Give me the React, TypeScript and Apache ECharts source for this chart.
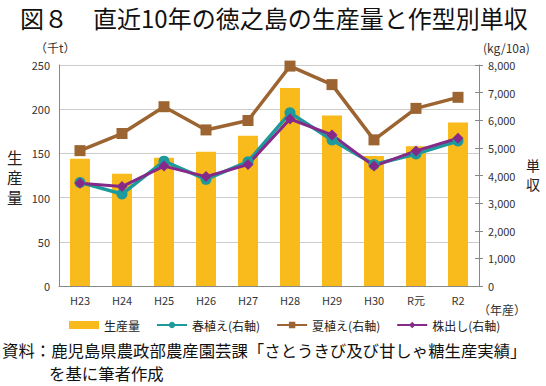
import React, { useEffect, useRef } from "react";
import * as echarts from "echarts";

const categories = ["H23", "H24", "H25", "H26", "H27", "H28", "H29", "H30", "R元", "R2"];
const production = [144, 127, 145, 152, 170, 224, 193, 147, 158, 185];
const springYield = [3750, 3330, 4520, 3860, 4500, 6270, 5285, 4400, 4780, 5250];
const summerYield = [4900, 5520, 6490, 5650, 5990, 7960, 7290, 5290, 6430, 6830];
const ratoonYield = [3720, 3600, 4340, 3960, 4400, 6045, 5470, 4340, 4890, 5350];
const leftTicks = { min: 0, max: 250, interval: 50 };
const rightTicks = { min: 0, max: 8000, interval: 1000 };
const leftName = ["生", "産", "量"];
const rightName = ["単", "収"];

const FONT = "'Noto Sans CJK JP', 'Noto Sans', sans-serif";

export default function App() {
  const ref = useRef<HTMLDivElement>(null);
  useEffect(() => {
    if (!ref.current) return;
    const chart = echarts.init(ref.current, undefined, { renderer: "svg" });
    const axisLabelStyle = { color: "#333", fontSize: 11, fontFamily: FONT };
    const leftNameTexts = leftName.map((ch, i) => ({
      type: "text",
      left: 7,
      top: 148 + i * 20,
      style: { text: ch, fontSize: 15.5, lineHeight: 18, fill: "#222", fontFamily: FONT },
    }));
    const rightNameTexts = rightName.map((ch, i) => ({
      type: "text",
      left: 526,
      top: 157 + i * 19,
      style: { text: ch, fontSize: 14, lineHeight: 16, fill: "#222", fontFamily: FONT },
    }));
    chart.setOption({
      animation: false,
      textStyle: { fontFamily: FONT },
      grid: { left: 59, right: 67, top: 65, bottom: 100 },
      xAxis: {
        type: "category",
        data: categories,
        axisLine: { lineStyle: { color: "#888", width: 1 } },
        axisTick: { show: false },
        axisLabel: { ...axisLabelStyle, margin: 8 },
      },
      yAxis: [
        {
          type: "value",
          ...leftTicks,
          position: "left",
          axisLine: { show: true, lineStyle: { color: "#888" } },
          axisTick: { show: false },
          axisLabel: { ...axisLabelStyle, margin: 9 },
          splitLine: { lineStyle: { color: "#ccc", width: 1 } },
        },
        {
          type: "value",
          ...rightTicks,
          position: "right",
          axisLine: { show: true, lineStyle: { color: "#888" } },
          axisTick: { show: true, length: 4, lineStyle: { color: "#888" } },
          axisLabel: {
            ...axisLabelStyle,
            margin: 9,
            formatter: (v: number) => v.toLocaleString("en-US"),
          },
          splitLine: { show: false },
        },
        {
          type: "value",
          ...rightTicks,
          position: "right",
          axisLine: { show: false },
          axisTick: { show: true, inside: true, length: 4, lineStyle: { color: "#888" } },
          axisLabel: { show: false },
          splitLine: { show: false },
        },
      ],
      legend: {
        left: 64,
        top: 314,
        itemGap: 16,
        itemWidth: 30,
        itemHeight: 8,
        textStyle: { color: "#222", fontSize: 12, fontFamily: FONT },
        data: [
          { name: "生産量", icon: "rect", itemStyle: { color: "#F9BA1B" } },
          { name: "春植え(右軸)" },
          { name: "夏植え(右軸)" },
          { name: "株出し(右軸)" },
        ],
      },
      series: [
        {
          name: "生産量",
          type: "bar",
          data: production,
          barWidth: 20,
          itemStyle: { color: "#F9BA1B" },
        },
        {
          name: "夏植え(右軸)",
          type: "line",
          yAxisIndex: 1,
          data: summerYield,
          symbol: "rect",
          symbolSize: 11,
          lineStyle: { color: "#9C6431", width: 3.5 },
          itemStyle: { color: "#9C6431" },
        },
        {
          name: "春植え(右軸)",
          type: "line",
          yAxisIndex: 1,
          data: springYield,
          symbol: "circle",
          symbolSize: 11,
          lineStyle: { color: "#1E9A9C", width: 3.5 },
          itemStyle: { color: "#1E9A9C" },
        },
        {
          name: "株出し(右軸)",
          type: "line",
          yAxisIndex: 1,
          data: ratoonYield,
          symbol: "diamond",
          symbolSize: 11,
          lineStyle: { color: "#862A8A", width: 3 },
          itemStyle: { color: "#862A8A" },
        },
      ],
      graphic: [
        {
          type: "text",
          left: 20,
          top: 5,
          style: { text: "図８", fontSize: 24, fill: "#111", fontFamily: FONT },
        },
        {
          type: "text",
          left: 93,
          top: 5,
          style: { text: "直近10年の徳之島の生産量と作型別単収", fontSize: 24, fill: "#111", fontFamily: FONT },
        },
        {
          type: "text",
          left: 35,
          top: 41,
          style: { text: "（千t）", fontSize: 12, fill: "#333", fontFamily: FONT },
        },
        {
          type: "text",
          left: 483,
          top: 41,
          style: { text: "(kg/10a)", fontSize: 12, fill: "#333", fontFamily: FONT },
        },
        ...leftNameTexts,
        ...rightNameTexts,
        {
          type: "text",
          left: 478,
          top: 303,
          style: { text: "（年産）", fontSize: 12, fill: "#333", fontFamily: FONT },
        },
        {
          type: "text",
          left: 2,
          top: 342,
          style: { text: "資料：鹿児島県農政部農産園芸課「さとうきび及び甘しゃ糖生産実績」", fontSize: 16.4, fill: "#111", fontFamily: FONT },
        },
        {
          type: "text",
          left: 49,
          top: 365,
          style: { text: "を基に筆者作成", fontSize: 16.4, fill: "#111", fontFamily: FONT },
        },
      ],
    });
    return () => chart.dispose();
  }, []);
  return <div ref={ref} style={{ width: 546, height: 386, position: "absolute", left: 0, top: 0, background: "#fff" }} />;
}
